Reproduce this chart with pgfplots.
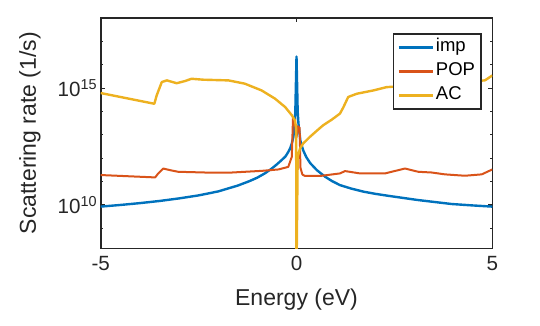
\documentclass[border=0pt]{standalone}
\usepackage{fontspec}
\setmainfont{Liberation Sans}
\usepackage{pgfplots}
\pgfplotsset{compat=1.18}
\definecolor{mblue}{RGB}{0,114,189}
\definecolor{mred}{RGB}{217,83,25}
\definecolor{myel}{RGB}{237,177,32}
\definecolor{mgray}{RGB}{38,38,38}
\begin{document}
\begin{tikzpicture}[x=1pt,y=1pt]
\useasboundingbox (0,0) rectangle (540,325);
\begin{axis}[
  at={(100.7pt,76.7pt)}, anchor=south west,
  scale only axis, width=391.6pt, height=230.3pt,
  xmin=-5, xmax=5, ymode=log, ymin=1.4e8, ymax=1e18,
  xtick={-5,0,5}, xticklabels={-5,0,5},
  ytick={1e10,1e15}, yticklabels={10\textsuperscript{10},10\textsuperscript{15}},
  minor ytick={1e9,1e11,1e12,1e13,1e14,1e16,1e17},
  major tick length=4pt, minor tick length=2.5pt,
  axis line style={line width=1.6pt, draw=mgray},
  every tick/.style={mgray, line width=1.2pt},
  tick label style={font=\fontsize{20.6}{24}\selectfont, text=mgray},
  xticklabel style={yshift=-4pt},
  xlabel={Energy (eV)}, ylabel={Scattering rate (1/s)},
  label style={font=\fontsize{23}{27}\selectfont, text=mgray},
  xlabel style={at={(axis description cs:0.5,-0.2245)}, anchor=center},
  ylabel style={at={(axis description cs:-0.1805,0.5)}, anchor=center},
  legend style={at={(0.973,0.934)}, anchor=north east, draw=mgray, line width=1.5pt,
    font=\fontsize{18.5}{20}\selectfont, text=black, inner xsep=4pt, inner ysep=3pt,
    row sep=3pt, nodes={inner sep=2pt, text height=13pt, text depth=4pt}},
  legend cell align=left,
  legend image code/.code={\draw[#1, line width=2.4pt] (0pt,0pt) -- (34pt,0pt);},
  every axis plot/.append style={line join=round},
]
\addplot[mblue, line width=2.4pt] coordinates {
(-5.00,8.51e9) (-4.50,1.00e10) (-4.00,1.20e10) (-3.50,1.48e10) (-3.00,1.91e10)
(-2.50,2.57e10) (-2.00,3.80e10) (-1.50,6.76e10) (-1.20,1.05e11) (-1.00,1.48e11)
(-0.80,2.29e11) (-0.63,3.63e11) (-0.50,5.50e11) (-0.38,8.32e11) (-0.28,1.20e12)
(-0.21,1.86e12) (-0.16,2.69e12) (-0.12,4.27e12) (-0.08,8.13e12) (-0.05,2.51e13)
(-0.03,1.00e14) (0.00,2.24e16) (0.03,1.00e14) (0.05,3.02e13) (0.10,5.50e12)
(0.17,2.19e12) (0.25,1.12e12) (0.35,6.17e11) (0.52,3.09e11) (0.73,1.62e11)
(0.90,1.07e11) (1.11,7.08e10) (1.40,5.01e10) (1.71,3.72e10) (2.00,3.02e10)
(2.39,2.40e10) (3.11,1.62e10) (3.96,1.10e10) (4.50,9.55e9) (5.00,8.51e9)
};
\addlegendentry{imp}
\addplot[mred, line width=2pt] coordinates {
(-5.00,1.91e11) (-3.61,1.51e11) (-3.53,2.24e11) (-3.40,3.63e11) (-3.23,3.09e11)
(-3.02,2.63e11) (-2.34,2.45e11) (-1.74,2.40e11) (-0.89,2.88e11) (-0.46,3.31e11)
(-0.21,4.27e11) (-0.12,1.15e12) (-0.09,5.01e13) (-0.05,4.47e13) (0.00,7.94e12)
(0.04,2.34e13) (0.08,2.00e13) (0.10,3.98e11) (0.15,2.00e11) (0.22,1.74e11)
(0.60,1.74e11) (1.11,2.24e11) (1.24,2.82e11) (1.62,2.24e11) (2.26,2.24e11)
(2.77,3.63e11) (3.11,2.63e11) (3.45,2.45e11) (3.79,2.04e11) (4.30,1.78e11)
(4.73,2.04e11) (5.00,3.31e11)
};
\addlegendentry{POP}
\addplot[myel, line width=2.4pt] coordinates {
(-5.00,6.17e14) (-3.63,2.14e14) (-3.57,4.90e14) (-3.44,1.82e15) (-3.31,2.14e15)
(-3.06,1.62e15) (-2.85,2.00e15) (-2.68,2.51e15) (-2.38,2.29e15) (-1.74,2.14e15)
(-1.32,1.55e15) (-0.89,7.94e14) (-0.55,3.55e14) (-0.29,1.55e14) (-0.12,6.92e13)
(-0.04,4.17e13) (-0.01,2.00e13) (0.00,1e7) (0.03,1.15e12) (0.09,2.63e12)
(0.17,4.27e12) (0.34,8.13e12) (0.50,1.41e13) (0.68,2.57e13) (0.90,4.47e13)
(1.11,8.13e13) (1.20,1.55e14) (1.32,4.17e14) (1.54,5.75e14) (1.96,7.94e14)
(2.30,1.10e15) (3.50,1.51e15) (4.81,2.14e15) (5.00,3.47e15)
};
\addlegendentry{AC}
\end{axis}
\end{tikzpicture}
\end{document}
